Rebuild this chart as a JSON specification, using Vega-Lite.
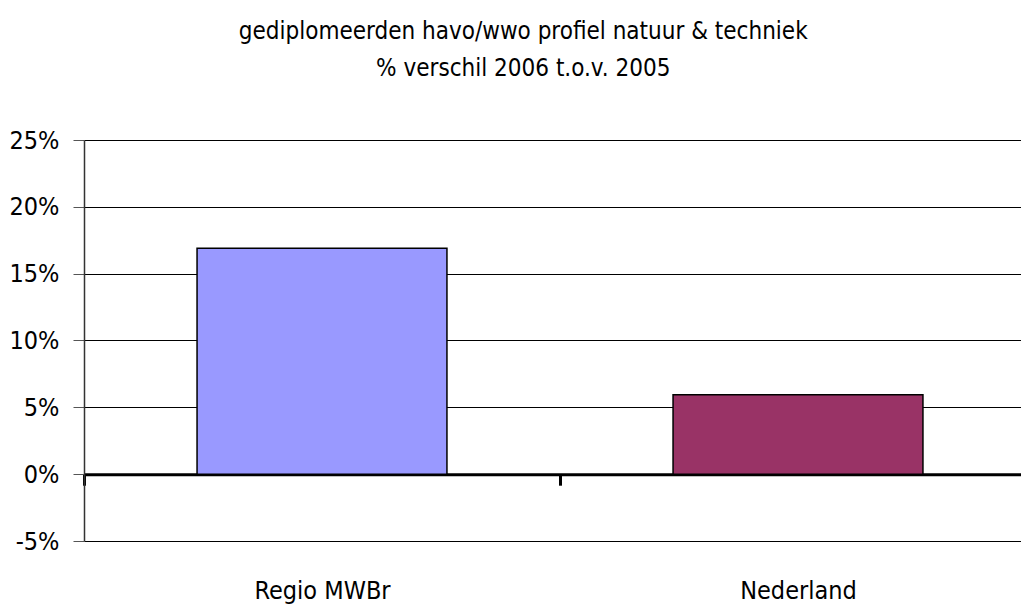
{
  "$schema": "https://vega.github.io/schema/vega-lite/v6.json",
  "width": 937,
  "height": 401,
  "autosize": {"type": "none"},
  "padding": {"left": 84, "top": 140, "right": 0, "bottom": 64},
  "background": "white",
  "title": {
    "text": ["gediplomeerden havo/wwo profiel natuur & techniek", "% verschil 2006 t.o.v. 2005"],
    "anchor": "middle",
    "frame": "bounds",
    "font": "DejaVu Sans Condensed, DejaVu Sans, sans-serif",
    "fontSize": 24,
    "fontWeight": "normal",
    "color": "black",
    "lineHeight": 37,
    "offset": 47
  },
  "data": {
    "values": [
      {"regio": "Regio MWBr", "verschil": 0.169},
      {"regio": "Nederland", "verschil": 0.0595}
    ]
  },
  "config": {
    "view": {"stroke": null},
    "axis": {
      "labelFont": "DejaVu Sans Condensed, DejaVu Sans, sans-serif",
      "labelFontSize": 25,
      "labelColor": "black"
    }
  },
  "mark": {"type": "bar", "stroke": "black", "strokeWidth": 1.5, "width": {"band": 0.525}},
  "encoding": {
    "x": {
      "field": "regio",
      "type": "nominal",
      "sort": null,
      "scale": {"range": [0, 952], "paddingInner": 0, "paddingOuter": 0},
      "axis": {
        "title": null,
        "labelAngle": 0,
        "offset": -66.8,
        "domainColor": "black",
        "domainWidth": 3,
        "tickBand": "extent",
        "tickColor": "black",
        "tickWidth": 3,
        "tickSize": 11,
        "labelPadding": 93,
        "grid": false
      }
    },
    "y": {
      "field": "verschil",
      "type": "quantitative",
      "scale": {"domain": [-0.05, 0.25], "nice": false, "zero": false},
      "axis": {
        "title": null,
        "format": ".0%",
        "labelExpr": "replace(datum.label, '\u2212', '-')",
        "values": [-0.05, 0, 0.05, 0.1, 0.15, 0.2, 0.25],
        "domainColor": "#333333",
        "domainWidth": 1.5,
        "tickColor": "#555555",
        "tickSize": 11,
        "tickWidth": 1,
        "labelPadding": 14,
        "grid": true,
        "gridColor": "black",
        "gridWidth": 1,
        "gridOpacity": 1
      }
    },
    "color": {
      "field": "regio",
      "type": "nominal",
      "sort": null,
      "scale": {"domain": ["Regio MWBr", "Nederland"], "range": ["#9999FF", "#993366"]},
      "legend": null
    }
  }
}
